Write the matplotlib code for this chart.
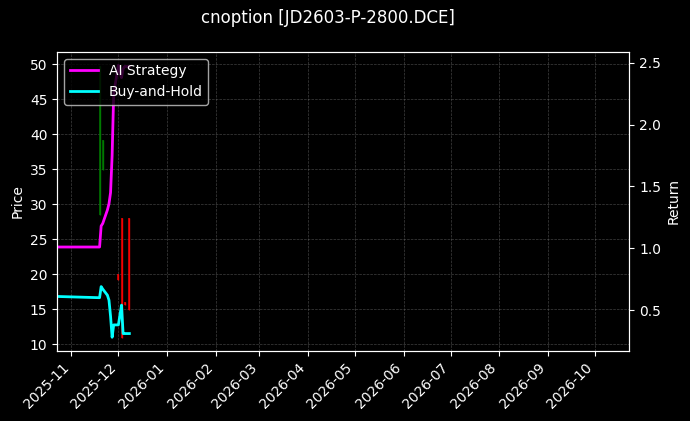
import matplotlib
matplotlib.use("Agg")
import matplotlib.pyplot as plt
import matplotlib.dates as mdates
import pandas as pd

# ---- data ----
line_dates = ["2025-10-23", "2025-11-19", "2025-11-20", "2025-11-21", "2025-11-24",
              "2025-11-25", "2025-11-26", "2025-11-27", "2025-11-28", "2025-12-01",
              "2025-12-02", "2025-12-03", "2025-12-04", "2025-12-05", "2025-12-08"]
ai_strategy = [1.01, 1.01, 1.18, 1.20, 1.31, 1.36, 1.45, 1.75, 2.25, 2.48,
               2.42, 2.38, 2.45, 2.47, 2.47]
buy_and_hold = [0.61, 0.60, 0.69, 0.67, 0.62, 0.58, 0.45, 0.28, 0.38, 0.38,
                0.46, 0.54, 0.31, 0.31, 0.31]

candle_dates = ["2025-11-19", "2025-11-21", "2025-12-01", "2025-12-03", "2025-12-05", "2025-12-08"]
opens  = [28.5, 34.9, 20.0, 28.0, 16.0, 28.0]
highs  = [49.8, 39.2, 20.0, 28.0, 16.0, 28.0]
lows   = [28.5, 34.9, 19.2, 10.9, 15.6, 14.9]
closes = [49.8, 39.2, 19.2, 10.9, 15.6, 14.9]

title = "cnoption [JD2603-P-2800.DCE]"
x_range = ["2025-10-23", "2026-10-23"]

# ---- plot ----
plt.style.use("dark_background")
fig = plt.figure(figsize=(6.9, 4.21), dpi=100)
ax1 = fig.add_axes([0.083, 0.166, 0.829, 0.711])
ax2 = ax1.twinx()

ld = pd.to_datetime(line_dates)
cd = pd.to_datetime(candle_dates)

for d, o, h, l, c in zip(cd, opens, highs, lows, closes):
    col = "green" if c >= o else "red"
    ax1.vlines(d, l, h, color=col, linewidth=1, alpha=0.85)
    ax1.vlines(d, min(o, c), max(o, c), color=col, linewidth=1.2, alpha=0.85)

ax2.plot(ld, ai_strategy, color="#ff00ff", linewidth=2, label="AI Strategy")
ax2.plot(ld, buy_and_hold, color="#00ffff", linewidth=2, label="Buy-and-Hold")

ax1.set_xlim(pd.to_datetime(x_range[0]), pd.to_datetime(x_range[1]))
ax1.set_ylim(9.0, 51.76)
ax2.set_ylim(0.168, 2.589)
ax1.set_yticks([10, 15, 20, 25, 30, 35, 40, 45, 50])
ax2.set_yticks([0.5, 1.0, 1.5, 2.0, 2.5])

ax1.xaxis.set_major_locator(mdates.MonthLocator())
ax1.xaxis.set_major_formatter(mdates.DateFormatter("%Y-%m"))
for lab in ax1.get_xticklabels():
    lab.set_rotation(45)
    lab.set_ha("right")

ax1.grid(True, linestyle="--", linewidth=0.5, color="gray", alpha=0.5)
ax1.set_ylabel("Price")
ax2.set_ylabel("Return")

ax2.legend(loc="upper left", fontsize=10)
fig.text(328 / 690, 1 - 18 / 421, title, ha="center", va="center", fontsize=12)

fig.savefig("out.png", dpi=100)
